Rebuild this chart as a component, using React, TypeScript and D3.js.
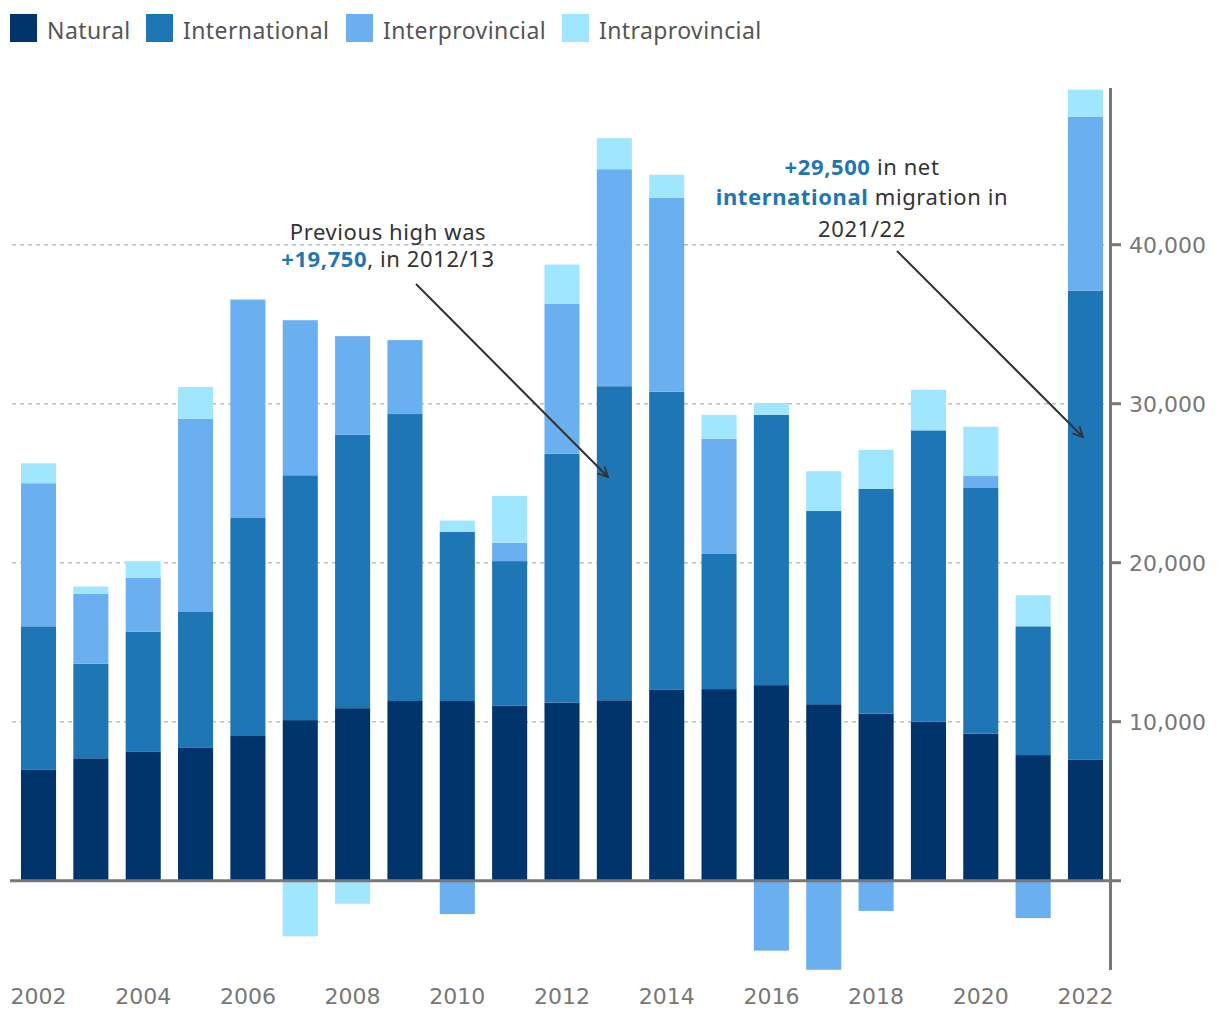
import React from "react";
import * as d3 from "d3";

const years = [2002, 2003, 2004, 2005, 2006, 2007, 2008, 2009, 2010, 2011, 2012, 2013, 2014, 2015, 2016, 2017, 2018, 2019, 2020, 2021, 2022];
const natural = [7000, 7700, 8100, 8350, 9100, 10100, 10850, 11300, 11300, 11000, 11200, 11350, 12000, 12050, 12300, 11100, 10500, 10000, 9250, 7900, 7600];
const international = [9000, 5950, 7550, 8550, 13750, 15400, 17200, 18050, 10650, 9100, 15650, 19750, 18750, 8500, 17000, 12150, 14150, 18300, 15450, 8100, 29500];
const interprovincial = [9000, 4400, 3400, 12150, 13700, 9750, 6200, 4650, -2100, 1150, 9450, 13650, 12200, 7250, -4400, -5600, -1900, 80, 750, -2350, 10950];
const intraprovincial = [1250, 450, 1050, 2000, 0, -3500, -1450, 0, 700, 2950, 2450, 1950, 1450, 1500, 750, 2500, 2450, 2500, 3100, 1950, 1700];

const seriesKeys = ["Natural", "International", "Interprovincial", "Intraprovincial"];
const seriesColors = ["#01346b", "#1f76b4", "#6aaff0", "#a0e6fe"];
const yTicks = [10000, 20000, 30000, 40000];
const xTickYears = [2002, 2004, 2006, 2008, 2010, 2012, 2014, 2016, 2018, 2020, 2022];
const domainMin = -5620;
const domainMax = 49860;

const FONT = "'Noto Sans', 'DejaVu Sans', sans-serif";
const TICKFONT = "'DejaVu Sans', sans-serif";
const BLUE = "#1f76b4";

export default function App() {
  const rows = years.map((y, i) => ({
    year: y,
    Natural: natural[i],
    International: international[i],
    Interprovincial: interprovincial[i],
    Intraprovincial: intraprovincial[i],
  }));
  const stack = d3.stack<any>().keys(seriesKeys).offset(d3.stackOffsetDiverging);
  const layers = stack(rows);

  const x = d3.scaleBand<number>().domain(years).range([3.7, 1120.3]).padding(0.33);
  const y = d3.scaleLinear().domain([0, 40000]).range([880.7, 244.7]);
  const axisX = 1110.5;

  const legendX = [10, 146, 346, 562];
  const ann = { fontSize: 22, fill: "#333", letterSpacing: 0.6, textAnchor: "middle" as const };

  return (
    <svg width={1220} height={1020} style={{ position: "absolute", left: 0, top: 0, fontFamily: FONT }}>
      <rect width={1220} height={1020} fill="#fff" />
      {/* legend */}
      {seriesKeys.map((k, i) => (
        <g key={k}>
          <rect x={legendX[i]} y={14} width={27} height={28} fill={seriesColors[i]} />
          <text x={legendX[i] + 37} y={38.5} fontSize={23} letterSpacing={0.4} fill="#555">{k}</text>
        </g>
      ))}
      {/* gridlines */}
      {yTicks.map((t) => (
        <line key={t} x1={12} x2={1108} y1={y(t)} y2={y(t)} stroke="#b4c0c6" strokeWidth={1.5} strokeDasharray="4 4" />
      ))}
      {/* bars */}
      {layers.map((layer, li) => (
        <g key={layer.key} fill={seriesColors[li]}>
          {layer.map((d, i) => {
            const top = y(Math.max(d[0], d[1]));
            const bot = y(Math.min(d[0], d[1]));
            if (bot - top <= 0) return null;
            return <rect key={i} x={x(years[i])} y={top} width={x.bandwidth()} height={bot - top} />;
          })}
        </g>
      ))}
      {/* zero line */}
      <line x1={10} x2={1121} y1={y(0)} y2={y(0)} stroke="#777" strokeWidth={3} />
      {/* right axis */}
      <line x1={axisX} x2={axisX} y1={y(domainMax)} y2={y(domainMin)} stroke="#777" strokeWidth={3} />
      {yTicks.map((t) => (
        <g key={t}>
          <line x1={axisX} x2={1121} y1={y(t)} y2={y(t)} stroke="#777" strokeWidth={3} />
          <text x={1129} y={y(t) + 8} fontSize={22} fontFamily={TICKFONT} fill="#777">{d3.format(",")(t)}</text>
        </g>
      ))}
      {/* x labels */}
      {xTickYears.map((yr) => (
        <text key={yr} x={(x(yr) as number) + x.bandwidth() / 2} y={1004} fontSize={22} fontFamily={TICKFONT} fill="#777" textAnchor="middle">
          {yr}
        </text>
      ))}
      <defs>
        <marker id="arr" viewBox="0 0 12 12" refX={11} refY={6} markerWidth={12} markerHeight={12} markerUnits="userSpaceOnUse" orient="auto">
          <path d="M1,1 L11,6 L1,11" fill="none" stroke="#333" strokeWidth={1.8} />
        </marker>
      </defs>
      {/* annotation 1 */}
      <text x={388} y={240} {...ann}>Previous high was</text>
      <text x={388} y={267} {...ann}>
        <tspan fill={BLUE} fontWeight="bold">+19,750</tspan>, in 2012/13
      </text>
      <line x1={416} y1={284} x2={608} y2={477} stroke="#333" strokeWidth={2} markerEnd="url(#arr)" />
      {/* annotation 2 */}
      <text x={862} y={175} {...ann}>
        <tspan fill={BLUE} fontWeight="bold">+29,500</tspan> in net
      </text>
      <text x={862} y={205} {...ann}>
        <tspan fill={BLUE} fontWeight="bold">international</tspan> migration in
      </text>
      <text x={862} y={237} {...ann}>2021/22</text>
      <line x1={897} y1={251} x2={1083} y2={437} stroke="#333" strokeWidth={2} markerEnd="url(#arr)" />
    </svg>
  );
}
